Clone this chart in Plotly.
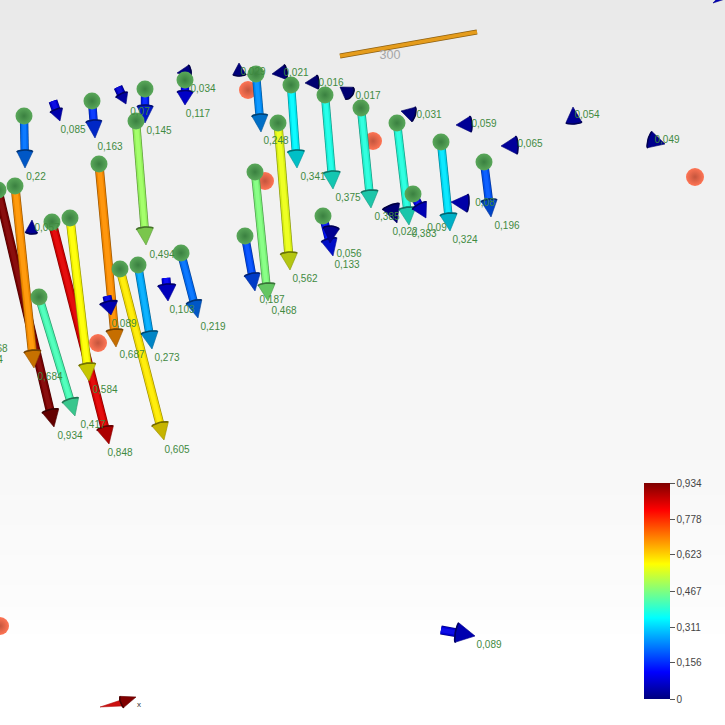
import plotly.graph_objects as go
import math

# ---- data (screen-like units) ----
bar_tail_x = [24,92,145,185,256,291,325,361,397,441,484,136,99,278,255,245,323,413,15,-2,52,70,39,120,138,181]
bar_tail_y = [116,101,89,80,74,85,95,108,123,142,162,121,164,123,172,236,216,194,186,190,222,218,297,269,265,253]
bar_tip_x = [25,95,145,185,261,297,333,371,409,450,491,146,116,290,268,255,333,426,34,54,109,89,75,164,152,198]
bar_tip_y = [168,138,123,105,132,168,189,208,225,231,217,245,347,270,301,291,256,218,368,427,444,381,416,440,349,318]
bar_values = [0.22,0.163,0.145,0.117,0.248,0.341,0.375,0.385,0.383,0.324,0.196,0.494,0.687,0.562,0.468,0.187,0.133,0.095,0.684,0.934,0.848,0.584,0.417,0.605,0.273,0.219]

cone_tail_x = [53,118,189,239.5,285,317,349,413,470,516,574,650,31.5,107,166,467,331,391,441,722]
cone_tail_y = [101,87,71,74,72,82,93,114,124,145,122,140,232,296,278,203,229,207,630,-3]
cone_tip_x = [60,126,177,239,272,305,340,401,456,501,573,665,32,111,168,451,330,397,475,713]
cone_tip_y = [121,104,73,63,74,83,87,111,125,146,107,144,220,315,301,202,243,223,636,3]
cone_values = [0.085,0.07,0.034,0.029,0.021,0.016,0.017,0.031,0.059,0.065,0.054,0.049,0.057,0.089,0.103,0.08,0.056,0.022,0.089,0.1]
cone_half_widths = [6.5,6.5,6,6.5,7.5,7,7,7.5,8,9,8,8.5,6,9,9,9,8,9,10,3]
cone_bulges = [1.5,1.5,2,2,2,2,4,2.5,2,2,2,2,2,2,2,2,3,2,2,1]
cone_head_lengths = [11,10,0,0,0,0,0,0,0,0,0,0,0,12,15,0,0,0,18,0]

label_texts = ["0,22","0,163","0,145","0,117","0,248","0,341","0,375","0,385","0,383","0,324","0,196","0,494","0,687","0,562","0,468","0,187","0,133","0,09","0,684","0,934","0,848","0,584","0,417","0,605","0,273","0,219",
               "0,085","0,07","0,034","0,029","0,021","0,016","0,017","0,031","0,059","0,065","0,054","0,049","0,057","0,089","0,103","0,08","0,056","0,022","0,089","68","4"]
label_x = [36,110,159,198,276,313,348,387,424,465,507,162,132,305,284,272,347,437,50,70,120,105,93,177,167,213,
           73,140,203,253,296,331,368,429,484,530,587,667,47,124,182,485,349,405,489,2,0]
label_y = [177,147,131,114,141,177,198,217,234,240,226,255,355,279,311,300,265,228,377,436,453,390,425,450,358,327,
           130,112,89,72,73,83,96,115,124,144,115,140,228,324,310,203,254,232,645,349,360]

sphere_x_red = [248,265,373,98,695,0]
sphere_y_red = [90,181,141,343,177,626]

axis_line_x = [340,477]
axis_line_y = [56,32]
axis_label = "300"
red_wedge_x = [100,124,122]
red_wedge_y = [707,699,706]
red_head_tail = [122,702]
red_head_tip = [136,697]

bg_levels_y = [0,60,120,240,360,480,600,640,725]
bg_levels = [233,236,239,242,245,248,252,255,255]

cbar_ticks = [0,0.156,0.311,0.467,0.623,0.778,0.934]
cbar_ticktext = ["0","0,156","0,311","0,467","0,623","0,778","0,934"]
VMAX = 0.934

# ---- helpers ----
JET = [(0,(0,0,127)),(0.125,(0,0,255)),(0.375,(0,255,255)),(0.5,(127,255,127)),(0.625,(255,255,0)),(0.875,(255,0,0)),(1,(127,0,0))]
def jet(v):
    t = min(max(v/VMAX,0),1)
    for (a,ca),(b,cb) in zip(JET,JET[1:]):
        if t <= b:
            f = (t-a)/(b-a)
            return tuple(ca[i]+(cb[i]-ca[i])*f for i in range(3))
    return JET[-1][1]
def css(c, k=1.0, add=0):
    return "rgb(%d,%d,%d)" % tuple(min(255,max(0,int(x*k+add))) for x in c)

fig = go.Figure()
fig.add_trace(go.Heatmap(x=[-10,735], y=bg_levels_y, z=[[v,v] for v in bg_levels], zmin=0, zmax=255,
                         colorscale=[[0,"black"],[1,"white"]], showscale=False, hoverinfo="skip", zsmooth="best"))

def line(xs,ys,color,width):
    fig.add_trace(go.Scatter(x=xs,y=ys,mode="lines",line=dict(color=color,width=width),hoverinfo="skip"))

def arrow(x0,y0,x1,y1,v,hl=0,hw=8,bulge=2,w=7):
    c = jet(v)
    L = math.hypot(x1-x0,y1-y0) or 1
    ux,uy = (x1-x0)/L,(y1-y0)/L
    px,py = -uy,ux
    shaft = hl > 0
    bx,by = (x1-ux*hl, y1-uy*hl) if shaft else (x0,y0)
    if shaft:
        line([x0,bx],[y0,by],css(c,0.6),w+1)
        line([x0,bx],[y0,by],css(c,0.94),w-0.4)
        line([x0,bx],[y0,by],css(c,0.97,14),w-3.6)
    n = 12
    ax = [bx+px*hw*math.cos(math.pi*i/n)-ux*bulge*math.sin(math.pi*i/n) for i in range(n+1)]
    ay = [by+py*hw*math.cos(math.pi*i/n)-uy*bulge*math.sin(math.pi*i/n) for i in range(n+1)]
    fig.add_trace(go.Scatter(x=[x1]+ax+[x1],y=[y1]+ay+[y1],mode="lines",fill="toself",fillcolor=css(c,0.78),
                             line=dict(color=css(c,0.6),width=0.6),hoverinfo="skip"))
    line(ax,ay,css(c,0.45),1.6)

# orange axis
line(axis_line_x,axis_line_y,"#8f6112",5)
line(axis_line_x,axis_line_y,"#e59c1c",3.4)
fig.add_trace(go.Scatter(x=[390],y=[56],mode="text",text=[axis_label],textfont=dict(family="Liberation Sans",size=12.5,color="#a6a6a6"),hoverinfo="skip"))

# red axis at the lower edge
fig.add_trace(go.Scatter(x=red_wedge_x+red_wedge_x[:1],y=red_wedge_y+red_wedge_y[:1],mode="lines",fill="toself",fillcolor="#cc1010",line=dict(color="#aa0808",width=0.5),hoverinfo="skip"))
arrow(red_head_tail[0],red_head_tail[1],red_head_tip[0],red_head_tip[1],0.9,hw=6,bulge=1.5)
fig.add_trace(go.Scatter(x=[139],y=[705],mode="text",text=["x"],textfont=dict(family="Liberation Sans",size=8,color="#333333"),hoverinfo="skip"))

# red spheres
fig.add_trace(go.Scatter(x=sphere_x_red,y=sphere_y_red,mode="markers",
    marker=dict(size=18,color="#ff7555",gradient=dict(type="radial",color="#c4553d"),line=dict(width=0)),hoverinfo="skip"))

# shafts + heads: largest first, with the low 0,187 arrow under 0,468
order = sorted(range(len(bar_values)),key=lambda i:-bar_values[i])
i187 = bar_values.index(0.187); i468 = bar_values.index(0.468)
order.remove(i187); order.insert(order.index(i468),i187)
for i in order:
    v = bar_values[i]
    L = math.hypot(bar_tip_x[i]-bar_tail_x[i],bar_tip_y[i]-bar_tail_y[i])
    arrow(bar_tail_x[i],bar_tail_y[i],bar_tip_x[i],bar_tip_y[i],v,hl=min(16,L*0.5),hw=8 if L<70 else 8.5,w=8 if v>0.5 else 7.4)

# stand-alone cones
for x0,y0,x1,y1,v,hw,b,hl in zip(cone_tail_x,cone_tail_y,cone_tip_x,cone_tip_y,cone_values,cone_half_widths,cone_bulges,cone_head_lengths):
    arrow(x0,y0,x1,y1,v,hl=hl,hw=hw,bulge=b,w=8)

# green spheres
fig.add_trace(go.Scatter(x=bar_tail_x,y=bar_tail_y,mode="markers",
    marker=dict(size=17,color="#5aa85a",gradient=dict(type="radial",color="#3a8040"),line=dict(width=0)),hoverinfo="skip"))

# value labels
fig.add_trace(go.Scatter(x=label_x,y=label_y,mode="text",text=label_texts,
    textfont=dict(family="Liberation Sans",size=10,color="#3f8a3f"),hoverinfo="skip"))

# colorbar
fig.add_trace(go.Scatter(x=[None],y=[None],mode="markers",hoverinfo="skip",
    marker=dict(color=[0],cmin=0,cmax=VMAX,
        colorscale=[[a,css(c)] for a,c in JET],
        colorbar=dict(x=644/725,xanchor="left",y=1-699/725,yanchor="bottom",len=216/725,lenmode="fraction",
            thickness=26,thicknessmode="pixels",outlinewidth=0,xpad=0,ypad=0,
            tickmode="array",tickvals=cbar_ticks,ticktext=cbar_ticktext,ticks="outside",ticklen=5,tickcolor="#555555",
            tickfont=dict(family="Liberation Sans",size=10,color="#444444")))))

fig.update_layout(width=725,height=725,margin=dict(l=0,r=0,t=0,b=0),showlegend=False,
    paper_bgcolor="white",plot_bgcolor="white",
    xaxis=dict(range=[0,725],visible=False,fixedrange=True),
    yaxis=dict(range=[725,0],visible=False,fixedrange=True))
fig.write_html("out.html",config={"displayModeBar":False},post_script="document.body.style.margin='0';document.body.style.overflow='hidden';")
